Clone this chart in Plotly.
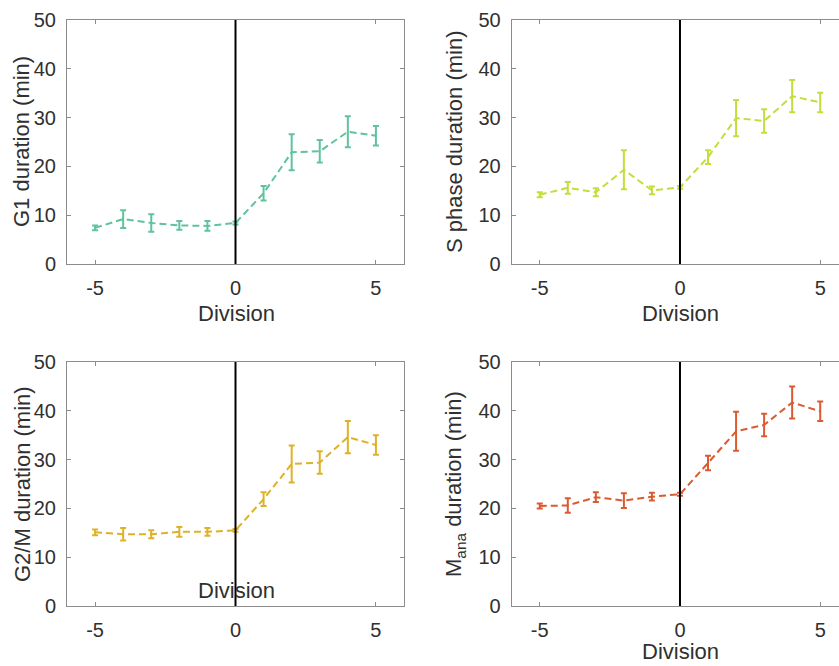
import plotly.graph_objects as go

division = [-5, -4, -3, -2, -1, 0, 1, 2, 3, 4, 5]

g1_mean = [7.4, 9.2, 8.4, 7.9, 7.8, 8.4, 14.5, 22.9, 23.1, 27.1, 26.3]
g1_err = [0.5, 1.8, 1.8, 0.9, 1.0, 0.3, 1.5, 3.7, 2.3, 3.2, 2.0]

s_mean = [14.2, 15.6, 14.7, 19.3, 15.1, 15.7, 21.9, 29.9, 29.3, 34.4, 33.1]
s_err = [0.5, 1.2, 0.8, 4.0, 0.8, 0.3, 1.4, 3.7, 2.4, 3.3, 2.0]

g2m_mean = [15.1, 14.7, 14.7, 15.2, 15.2, 15.5, 21.9, 29.1, 29.4, 34.6, 33.0]
g2m_err = [0.6, 1.3, 0.8, 1.0, 0.8, 0.3, 1.4, 3.8, 2.3, 3.3, 2.0]

mana_mean = [20.5, 20.6, 22.3, 21.6, 22.4, 22.9, 29.3, 35.8, 37.1, 41.7, 39.9]
mana_err = [0.5, 1.5, 1.0, 1.5, 0.8, 0.3, 1.5, 4.0, 2.3, 3.3, 2.0]

y_titles = ["G1 duration (min)", "S phase duration (min)",
            "G2/M duration (min)", "M<sub>ana</sub> duration (min)"]
x_title = "Division"
colors = ["#5fc39c", "#c6dc3c", "#dfb127", "#dc5a30"]
y_ticks = [0, 10, 20, 30, 40, 50]
x_ticks = [-5, 0, 5]
x_ticklabels = ["-5", "0", "5"]

W, H = 839, 666
# panel pixel boxes: (left, right, top, bottom)
boxes = [(67, 404, 20, 264), (511.7, 839, 20, 264),
         (67, 404, 362, 606), (511.7, 839, 362, 606)]
xranges = [[-6, 6], [-6, 5.67], [-6, 6], [-6, 5.67]]

series = [(g1_mean, g1_err), (s_mean, s_err), (g2m_mean, g2m_err), (mana_mean, mana_err)]

fig = go.Figure()
FONT = "Liberation Sans, Arial, Helvetica, sans-serif"
axcol = "#8c8c8c"
txtcol = "#303030"

annotations = []
shapes = []
for i, ((m, e), col, box, xr) in enumerate(zip(series, colors, boxes, xranges)):
    n = i + 1
    xa = "x" if n == 1 else f"x{n}"
    ya = "y" if n == 1 else f"y{n}"
    fig.add_trace(go.Scatter(
        x=division, y=m, mode="lines",
        line=dict(color=col, width=2, dash="7px,4px"),
        error_y=dict(type="data", array=e, visible=True, color=col, thickness=2, width=3),
        xaxis=xa, yaxis=ya, showlegend=False, hoverinfo="skip"))
    l, r, t, b = box
    right_panel = n in (2, 4)
    fig.layout[f"xaxis{'' if n == 1 else n}"] = dict(
        domain=[l / W, r / W], range=xr, anchor=ya,
        tickvals=x_ticks, ticktext=x_ticklabels, ticks="inside", ticklen=4, tickcolor=axcol,
        showline=True, linecolor=axcol, linewidth=1, mirror="ticks",
        showgrid=False, zeroline=False, automargin=False,
        tickfont=dict(family=FONT, size=20, color=txtcol), ticklabelstandoff=6)
    fig.layout[f"yaxis{'' if n == 1 else n}"] = dict(
        domain=[1 - b / H, 1 - t / H], range=[0, 50], anchor=xa,
        tickvals=y_ticks, ticks="inside", ticklen=4, tickcolor=axcol,
        showline=True, linecolor=axcol, linewidth=1,
        mirror=False if right_panel else "ticks",
        showgrid=False, zeroline=False, automargin=False,
        tickfont=dict(family=FONT, size=20, color=txtcol), ticklabelstandoff=6)
    # vertical division line at x=0
    shapes.append(dict(type="line", xref=xa, yref=ya, x0=0, x1=0, y0=0, y1=50,
                       line=dict(color="black", width=2)))
    # y title
    ycx = 22 if not right_panel else 455
    annotations.append(dict(text=y_titles[i], xref="paper", yref="paper",
                            x=ycx / W, y=1 - (t + b) / 2 / H, textangle=-90,
                            showarrow=False, xanchor="center", yanchor="middle",
                            font=dict(family=FONT, size=22, color=txtcol)))
    # x title
    if n in (1, 2):
        xty = 313
    elif n == 3:
        xty = 590
    else:
        xty = 651
    annotations.append(dict(text=x_title, xref="paper", yref="paper",
                            x=236 / W if n in (1, 3) else 680 / W, y=1 - xty / H,
                            showarrow=False, xanchor="center", yanchor="middle",
                            font=dict(family=FONT, size=22, color=txtcol)))

fig.update_layout(width=W, height=H,
                  margin=dict(l=0, r=0, t=0, b=0, pad=0, autoexpand=False),
                  paper_bgcolor="white", plot_bgcolor="white",
                  shapes=shapes, annotations=annotations)
fig.write_html("out.html", config={"displayModeBar": False},
               post_script="document.body.style.margin='0';document.body.style.overflow='hidden';")
